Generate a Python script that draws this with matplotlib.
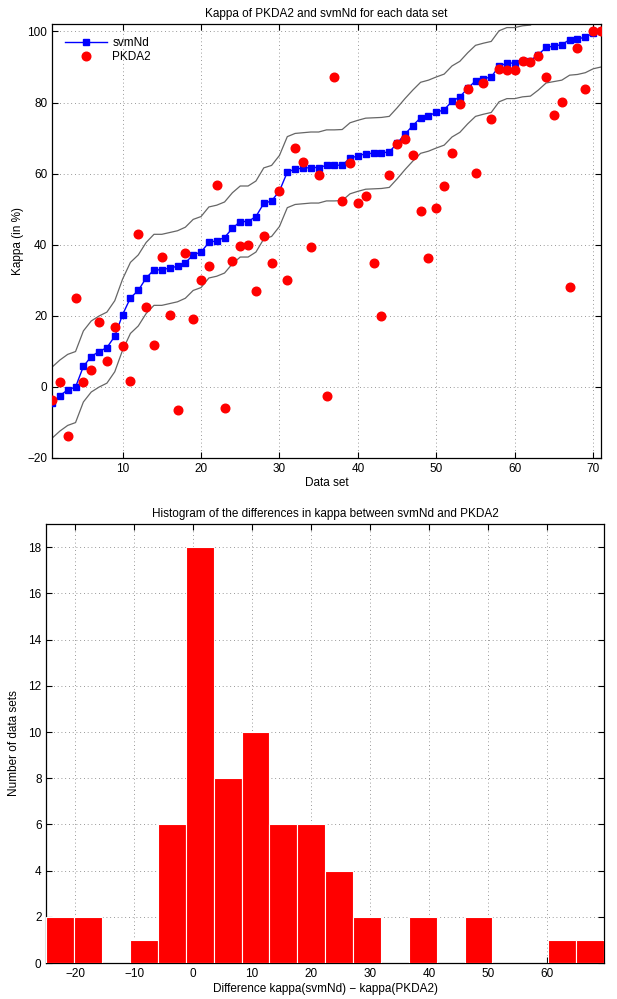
import numpy as np
import matplotlib
matplotlib.use("Agg")
import matplotlib.pyplot as plt

plt.rcParams['font.family'] = ['Liberation Sans', 'DejaVu Sans']

# ---- data: kappa per data set ----
svmNd = [-4.5, -2.5, -0.9, -0.1, 5.7, 8.5, 9.9, 11.0, 14.2, 20.3,
         25.0, 27.1, 30.6, 32.9, 32.9, 33.4, 33.9, 34.9, 37.1, 37.9,
         40.6, 41.1, 42.0, 44.6, 46.5, 46.5, 47.9, 51.6, 52.3, 55.1,
         60.4, 61.3, 61.5, 61.7, 61.7, 62.3, 62.3, 62.4, 64.3, 65.0,
         65.6, 65.7, 65.8, 66.1, 68.5, 71.1, 73.5, 75.7, 76.3, 77.2,
         78.0, 80.3, 81.6, 84.0, 86.1, 86.7, 87.2, 90.2, 91.1, 91.1,
         91.6, 91.8, 93.5, 95.5, 95.9, 96.3, 97.7, 97.9, 98.4, 99.5,
         100.0]

PKDA2 = [-3.7, 1.3, -13.8, 24.9, 1.3, 4.6, 18.1, 7.3, 16.7, 11.4,
         1.5, 42.9, 22.4, 11.8, 36.6, 20.3, -6.5, 37.7, 19.1, 29.9,
         33.9, 56.8, -5.9, 35.5, 39.6, 40.0, 27.0, 42.4, 34.9, 55.1,
         30.1, 67.1, 63.2, 39.4, 59.5, -2.5, 87.3, 52.2, 62.9, 51.7,
         53.7, 34.7, 19.8, 59.5, 68.4, 69.8, 65.3, 49.6, 36.1, 50.3,
         56.5, 65.7, 79.7, 83.9, 60.1, 85.5, 75.3, 89.4, 89.1, 89.1,
         91.7, 91.5, 93.1, 87.2, 76.4, 80.2, 28.1, 95.4, 83.9, 100.0,
         100.0]

upper = [5.5, 7.5, 9.1, 9.9, 15.7, 18.5, 19.9, 21.0, 24.2, 30.3,
         35.0, 37.1, 40.6, 42.9, 42.9, 43.4, 43.9, 44.9, 47.1, 47.9,
         50.6, 51.1, 52.0, 54.6, 56.5, 56.5, 57.9, 61.6, 62.3, 65.1,
         70.4, 71.3, 71.5, 71.7, 71.7, 72.3, 72.3, 72.4, 74.3, 75.0,
         75.6, 75.7, 75.8, 76.1, 78.5, 81.1, 83.5, 85.7, 86.3, 87.2,
         88.0, 90.3, 91.6, 94.0, 96.1, 96.7, 97.2, 100.2, 101.1, 101.1,
         101.6, 101.8, 103.5, 105.5, 105.9, 106.3, 107.7, 107.9, 108.4, 109.5,
         110.0]

lower = [-14.5, -12.5, -10.9, -10.1, -4.3, -1.5, -0.1, 1.0, 4.2, 10.3,
         15.0, 17.1, 20.6, 22.9, 22.9, 23.4, 23.9, 24.9, 27.1, 27.9,
         30.6, 31.1, 32.0, 34.6, 36.5, 36.5, 37.9, 41.6, 42.3, 45.1,
         50.4, 51.3, 51.5, 51.7, 51.7, 52.3, 52.3, 52.4, 54.3, 55.0,
         55.6, 55.7, 55.8, 56.1, 58.5, 61.1, 63.5, 65.7, 66.3, 67.2,
         68.0, 70.3, 71.6, 74.0, 76.1, 76.7, 77.2, 80.2, 81.1, 81.1,
         81.6, 81.8, 83.5, 85.5, 85.9, 86.3, 87.7, 87.9, 88.4, 89.5,
         90.0]

# ---- histogram of differences (20 bins) ----
diff_min = -24.87
diff_max = 69.7
hist_counts = [2, 2, 0, 1, 6, 18, 8, 10, 6, 6, 4, 2, 0, 2, 0, 2, 0, 0, 1, 1]

top_xticks = [10, 20, 30, 40, 50, 60, 70]
top_yticks = [-20, 0, 20, 40, 60, 80, 100]
bot_xticks = [-20, -10, 0, 10, 20, 30, 40, 50, 60]
bot_yticks = [0, 2, 4, 6, 8, 10, 12, 14, 16, 18]

FS = 8.5

fig = plt.figure(figsize=(6.17, 9.99), dpi=100)

def style(ax):
    ax.grid(True, linestyle=(0, (1, 3.5)), color='#777777', linewidth=0.6)
    ax.set_axisbelow(True)
    ax.tick_params(direction='in', top=True, right=True, length=4,
                   labelsize=FS, width=0.8)
    for s in ax.spines.values():
        s.set_linewidth(0.9)

# ---- top axes ----
ax1 = fig.add_axes([0.0843, 0.5418, 0.8898, 0.4338])
x = np.arange(1, len(svmNd) + 1)
ax1.plot(x, upper, color='#666666', lw=0.9, zorder=2)
ax1.plot(x, lower, color='#666666', lw=0.9, zorder=2)
ax1.plot(x, svmNd, '-s', color='blue', mfc='blue', mec='blue', ms=4.3, lw=1.0,
         label='svmNd', zorder=3)
ax1.plot(x, PKDA2, 'o', color='red', mfc='red', mec='red', ms=6.2, lw=0,
         label='PKDA2', zorder=4)
ax1.set_xlim(1, 71)
ax1.set_ylim(-20, 102)
ax1.set_xticks(top_xticks)
ax1.set_yticks(top_yticks)
style(ax1)
ax1.set_title('Kappa of PKDA2 and svmNd for each data set', fontsize=FS, pad=5)
ax1.set_xlabel('Data set', fontsize=FS, labelpad=2)
ax1.set_ylabel('Kappa (in %)', fontsize=FS, labelpad=2)
leg = ax1.legend(loc='upper left', frameon=False, fontsize=FS,
                 handlelength=3.6, handletextpad=0.4, borderaxespad=0.6,
                 labelspacing=0.15, borderpad=0.5)

# ---- bottom axes ----
ax2 = fig.add_axes([0.0752, 0.036, 0.9037, 0.4394])
edges = np.linspace(diff_min, diff_max, len(hist_counts) + 1)
widths = np.diff(edges)
ax2.bar(edges[:-1], hist_counts, width=widths, align='edge',
        color='red', edgecolor='white', linewidth=0.8, zorder=3)
ax2.set_xlim(diff_min, diff_max)
ax2.set_ylim(0, 19)
ax2.set_xticks(bot_xticks)
ax2.set_yticks(bot_yticks)
style(ax2)
ax2.set_title('Histogram of the differences in kappa between svmNd and PKDA2',
              fontsize=FS, pad=5)
ax2.set_xlabel('Difference kappa(svmNd) \u2212 kappa(PKDA2)', fontsize=FS, labelpad=2)
ax2.set_ylabel('Number of data sets', fontsize=FS, labelpad=6)

fig.savefig('out.png', dpi=100)
